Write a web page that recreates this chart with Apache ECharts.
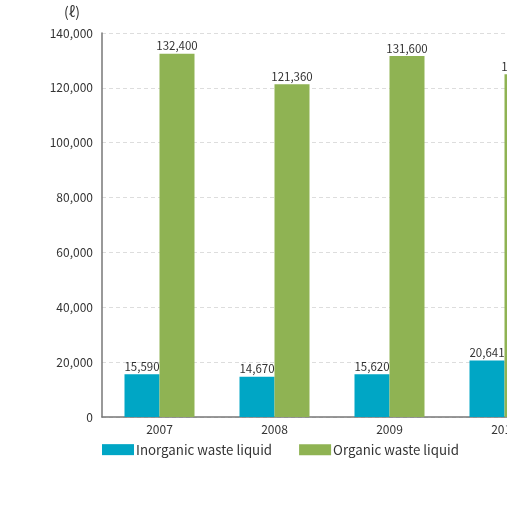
<!DOCTYPE html>
<html><head><meta charset="utf-8">
<script src="https://cdn.jsdelivr.net/npm/echarts@6/dist/echarts.min.js"></script>
<style>html,body{margin:0;padding:0;background:#fff;overflow:hidden;width:507px;height:517px}#c{width:600px;height:517px}</style>
</head><body><div id="c"></div>
<script>
const categories = ['2007', '2008', '2009', '2010'];
const inorganic = [15590, 14670, 15620, 20641];
const organic = [132400, 121360, 131600, 125000];
const yTicks = [0, 20000, 40000, 60000, 80000, 100000, 120000, 140000];

const font = '"Noto Sans CJK JP", "Noto Sans", sans-serif';
const chart = echarts.init(document.getElementById('c'));
const fmt = v => v.toLocaleString('en-US');
const barLabel = { show: true, position: 'top', color: '#333', fontSize: 11.5, fontFamily: font, distance: 2, formatter: p => fmt(p.value) };
chart.setOption({
  animation: false,
  textStyle: { fontFamily: font },
  grid: { left: 102, top: 33, width: 460, height: 384, containLabel: false },
  graphic: [{ type: 'text', left: 64, top: 5, style: { text: '(ℓ)', font: '14px ' + font, fill: '#333' } }],
  legend: {
    left: 102, top: 443, padding: 0, itemWidth: 32, itemHeight: 11, itemGap: 27,
    textStyle: { fontSize: 13.3, color: '#333', fontFamily: font, padding: [0, 0, 0, -3] },
    icon: 'rect',
    data: ['Inorganic waste liquid', 'Organic waste liquid']
  },
  xAxis: {
    type: 'category', data: categories,
    axisLine: { lineStyle: { color: '#777', width: 1.5 } },
    axisTick: { show: false },
    axisLabel: { color: '#333', fontSize: 12, margin: 6, fontFamily: font }
  },
  yAxis: {
    type: 'value', min: 0, max: 140000, interval: 20000,
    axisLine: { show: true, lineStyle: { color: '#777', width: 1.5 } },
    axisTick: { show: false },
    splitLine: { lineStyle: { color: '#ddd', type: [4, 3] } },
    axisLabel: { color: '#333', fontSize: 12, margin: 9, fontFamily: font, formatter: v => fmt(v) }
  },
  series: [
    { name: 'Inorganic waste liquid', type: 'bar', data: inorganic, barWidth: 35, barGap: '0%',
      itemStyle: { color: '#00A6C5' }, label: barLabel },
    { name: 'Organic waste liquid', type: 'bar', data: organic, barWidth: 35,
      itemStyle: { color: '#8FB353' }, label: barLabel }
  ]
});
</script></body></html>
